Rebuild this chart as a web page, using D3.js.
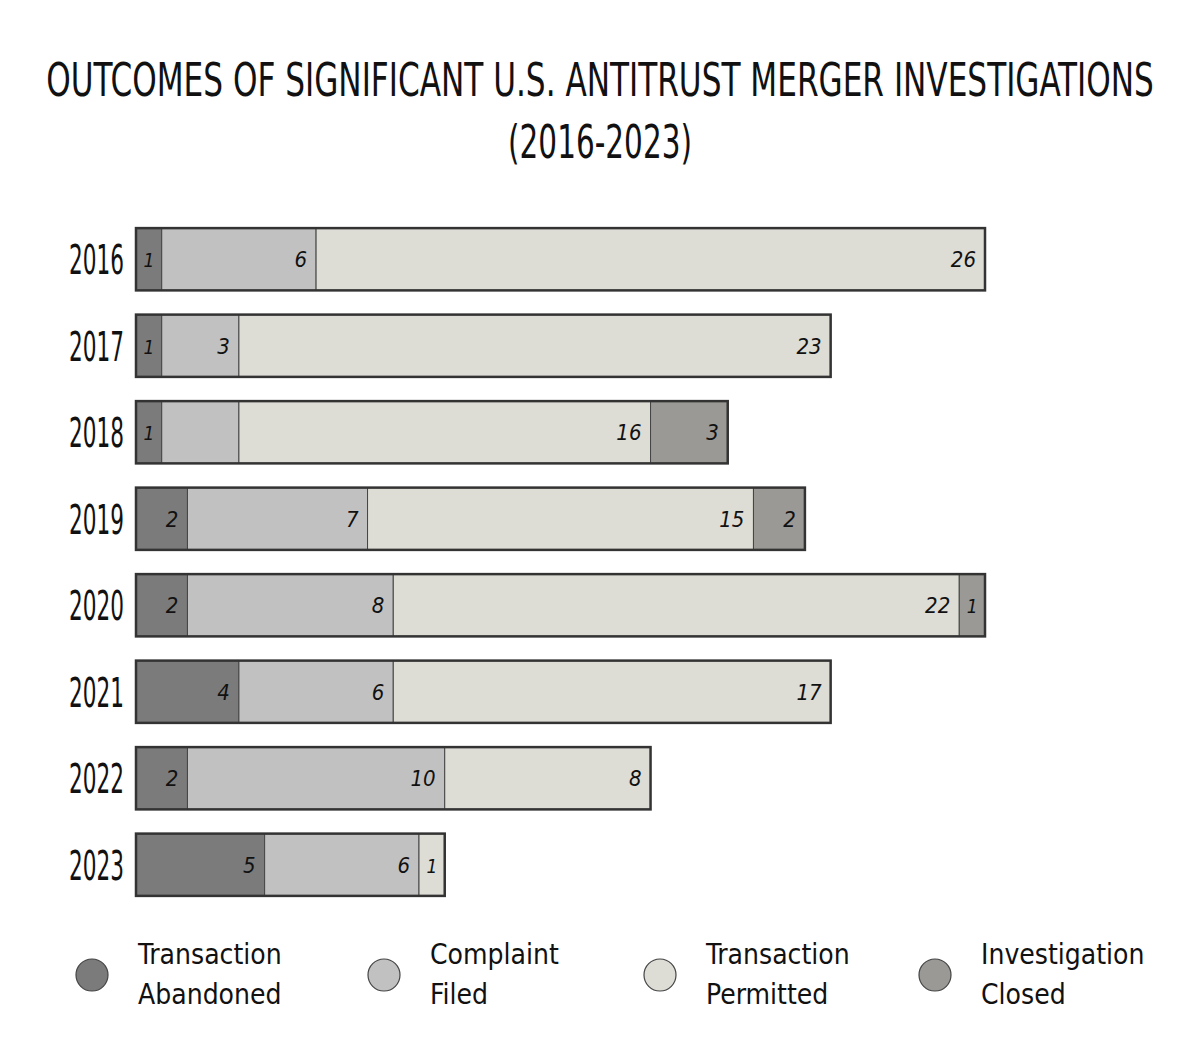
<!DOCTYPE html>
<html><head><meta charset="utf-8">
<script src="https://cdn.jsdelivr.net/npm/d3@7"></script>
<style>body{margin:0;background:#fff}</style>
</head><body>
<svg id="c" width="1188" height="1050"></svg>
<script>
const years = ["2016","2017","2018","2019","2020","2021","2022","2023"];
const seriesNames = ["Transaction Abandoned","Complaint Filed","Transaction Permitted","Investigation Closed"];
const abandoned = [1,1,1,2,2,4,2,5];
const complaint = [6,3,3,7,8,6,10,6];
const permitted = [26,23,16,15,22,17,8,1];
const closed    = [0,0,3,2,1,0,0,0];
// labels shown in the picture (2018 "Complaint Filed" has no printed label)
const complaintShown = [true,true,false,true,true,true,true,true];
const colors = ["#7b7b7b","#c1c1c1","#dddcd5","#9a9995"];
const title = ["OUTCOMES OF SIGNIFICANT U.S. ANTITRUST MERGER INVESTIGATIONS","(2016-2023)"];

const svg = d3.select("#c");
const FONT = "'DejaVu Sans Condensed','DejaVu Sans',sans-serif";

const data = years.map((y,i)=>({year:y, "Transaction Abandoned":abandoned[i], "Complaint Filed":complaint[i], "Transaction Permitted":permitted[i], "Investigation Closed":closed[i]}));
const stack = d3.stack().keys(seriesNames)(data);

const x = d3.scaleLinear().domain([0,33]).range([136,985]);
const y = d3.scaleBand().domain(years).range([216,908]).paddingInner(0.28).paddingOuter(0.14);

// fit a text to a target width by horizontal scaling
function fitText(sel, w){
  sel.each(function(){
    const t = d3.select(this);
    const nat = this.getComputedTextLength();
    const s = Math.min(1, w/nat);
    const tx = +t.attr("x"), ty = +t.attr("y");
    t.attr("x",0).attr("y",0).attr("transform",`translate(${tx},${ty}) scale(${s},1)`);
  });
}

const titleW = [1108,184];
svg.selectAll("text.title").data(title).join("text").attr("class","title")
  .attr("x",600).attr("y",(d,i)=>96+i*62)
  .attr("text-anchor","middle").attr("font-family",FONT)
  .attr("font-size",46).attr("fill","#111").text(d=>d)
  .each(function(d,i){ fitText(d3.select(this), titleW[i]); });

// segments
stack.forEach((layer,k)=>{
  svg.append("g").selectAll("rect").data(layer).join("rect")
    .attr("x",d=>x(d[0])).attr("y",d=>y(d.data.year))
    .attr("width",d=>x(d[1])-x(d[0])).attr("height",y.bandwidth())
    .attr("fill",colors[k]).attr("stroke","#444").attr("stroke-width",1)
    .attr("display",d=>d[1]-d[0]>0?null:"none");
  svg.append("g").selectAll("text").data(layer).join("text")
    .attr("x",d=>{const w=x(d[1])-x(d[0]); return w<40 ? (x(d[0])+x(d[1]))/2 : x(d[1])-9;})
    .attr("text-anchor",d=>(x(d[1])-x(d[0]))<40?"middle":"end")
    .attr("y",d=>y(d.data.year)+y.bandwidth()/2+8)
    .attr("font-family",FONT).attr("font-style","italic")
    .attr("font-size",d=>(x(d[1])-x(d[0]))<40?19:22).attr("fill","#111")
    .text((d,i)=>{const v=d[1]-d[0]; if(v<=0) return ""; if(k===1 && !complaintShown[i]) return ""; return v;});
});
// outer outline
svg.append("g").selectAll("rect").data(data).join("rect")
  .attr("x",x(0)).attr("y",d=>y(d.year))
  .attr("width",d=>x(d3.sum(seriesNames,s=>d[s]))-x(0)).attr("height",y.bandwidth())
  .attr("fill","none").attr("stroke","#333").attr("stroke-width",2.5);

// year labels
svg.append("g").selectAll("text").data(years).join("text")
  .attr("x",124).attr("y",d=>y(d)+y.bandwidth()/2+15)
  .attr("text-anchor","end").attr("font-family",FONT)
  .attr("font-size",40).attr("fill","#111").text(d=>d)
  .call(fitText,55);

// legend
const legX = [92,384,660,935];
const lg = svg.append("g").selectAll("g").data(seriesNames).join("g")
  .attr("transform",(d,i)=>`translate(${legX[i]},975)`);
lg.append("circle").attr("r",16).attr("fill",(d,i)=>colors[i]).attr("stroke","#444").attr("stroke-width",1.2);
lg.each(function(d){
  const parts = d.split(" ");
  d3.select(this).selectAll("text").data(parts).join("text")
    .attr("x",46).attr("y",(p,j)=>-11+j*40)
    .attr("font-family",FONT)
    .attr("font-size",28).attr("fill","#111").text(p=>p);
});
</script>
</body></html>
